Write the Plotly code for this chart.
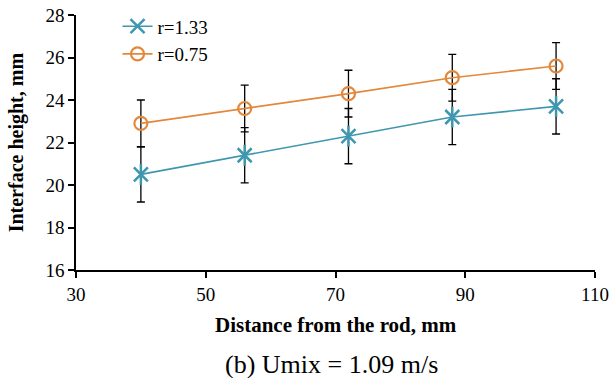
import plotly.graph_objects as go

distance = [40, 56, 72, 88, 104]
h_r133 = [20.5, 21.4, 22.3, 23.2, 23.7]
err_r133 = [1.3, 1.3, 1.3, 1.3, 1.3]
h_r075 = [22.9, 23.6, 24.3, 25.05, 25.6]
err_r075 = [1.1, 1.1, 1.1, 1.1, 1.1]
x_ticks = [30, 50, 70, 90, 110]
y_ticks = [16, 18, 20, 22, 24, 26, 28]

teal = "#3E97AF"
orange = "#E3873A"
font = "Liberation Serif, Times New Roman, serif"

fig = go.Figure()
fig.add_trace(go.Scatter(
    x=distance, y=h_r133, mode="lines+markers", name="r=1.33",
    line=dict(color=teal, width=1.6),
    marker=dict(symbol="x-thin-open", size=14, line=dict(color=teal, width=2.5), color=teal),
    error_y=dict(type="data", array=err_r133, color="black", thickness=1.3, width=4),
))
fig.add_trace(go.Scatter(
    x=distance, y=h_r133, mode="markers", showlegend=False, hoverinfo="skip",
    marker=dict(symbol="line-ns-open", size=15, line=dict(color=teal, width=2.5), color=teal),
))
fig.add_trace(go.Scatter(
    x=distance, y=h_r075, mode="lines+markers", name="r=0.75",
    line=dict(color=orange, width=1.6),
    marker=dict(symbol="circle-open", size=13, line=dict(color=orange, width=2.2), color=orange),
    error_y=dict(type="data", array=err_r075, color="black", thickness=1.3, width=4),
))

fig.update_layout(
    width=610, height=378,
    margin=dict(l=76, r=15, t=15, b=108, autoexpand=False),
    plot_bgcolor="white", paper_bgcolor="white",
    font=dict(family=font, size=19, color="black"),
    showlegend=True,
    legend=dict(x=0.08, y=1.03, xanchor="left", yanchor="top",
                bgcolor="rgba(0,0,0,0)", font=dict(size=19, family=font),
                itemwidth=30, tracegroupgap=0),
    xaxis=dict(range=[30, 110], tickvals=x_ticks, showgrid=False, zeroline=False,
               showline=True, linecolor="black", linewidth=1.5, automargin=False,
               ticks="outside", ticklen=6, tickcolor="black", tickwidth=1.5,
               tickfont=dict(size=19, family=font)),
    yaxis=dict(range=[16, 28], tickvals=y_ticks, showgrid=False, zeroline=False,
               showline=True, linecolor="black", linewidth=1.5, automargin=False,
               ticks="outside", ticklen=6, tickcolor="black", tickwidth=1.5,
               tickfont=dict(size=19, family=font)),
    annotations=[
        dict(text="<b>Distance from the rod, mm</b>", xref="paper", yref="paper",
             x=0.501, y=-0.215, xanchor="center", yanchor="middle", showarrow=False,
             font=dict(size=21, family=font, color="black")),
        dict(text="<b>Interface height, mm</b>", xref="paper", yref="paper",
             x=-0.114, y=0.50, xanchor="center", yanchor="middle", showarrow=False,
             textangle=-90, font=dict(size=20, family=font, color="black")),
        dict(text="(b) Umix = 1.09 m/s", xref="paper", yref="paper",
             x=0.493, y=-0.372, xanchor="center", yanchor="middle", showarrow=False,
             font=dict(size=26, family=font, color="black")),
    ],
)

fig.write_html("out.html", config={"displayModeBar": False},
               post_script="document.body.style.margin='0';document.body.style.overflow='hidden';")
